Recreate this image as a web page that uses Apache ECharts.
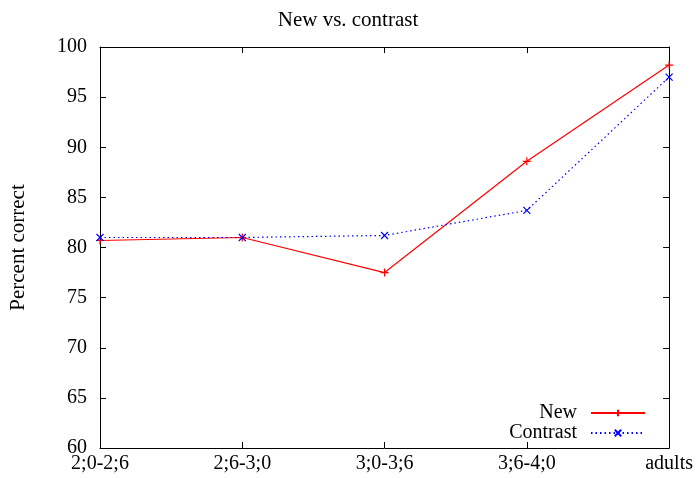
<!DOCTYPE html>
<html>
<head>
<meta charset="utf-8">
<script src="https://cdn.jsdelivr.net/npm/echarts@6/dist/echarts.min.js"></script>
<style>
  html, body { margin: 0; padding: 0; background: #fff; }
  #main { width: 696px; height: 478px; }
</style>
</head>
<body>
<div id="main"></div>
<script>
const categories = ['2;0-2;6', '2;6-3;0', '3;0-3;6', '3;6-4;0', 'adults'];
const newValues = [80.7, 81.0, 77.5, 88.6, 98.2];
const contrastValues = [81.0, 81.0, 81.2, 83.7, 97.0];
const yTicks = [60, 65, 70, 75, 80, 85, 90, 95, 100];

const font = 'Liberation Serif';
const plusSymbol = 'path://M0,5L10,5M5,0L5,10';
const crossSymbol = 'path://M0,0L10,10M10,0L0,10';

const chart = echarts.init(document.getElementById('main'));

const tickStyle = { show: true, inside: true, length: 6, lineStyle: { color: '#000' } };
const legendText = { fontFamily: font, fontSize: 20, color: '#000', padding: [0, 9, 0, 0] };

const option = {
  animation: false,
  title: {
    text: 'New vs. contrast',
    left: 'center',
    top: 5,
    textStyle: { fontFamily: font, fontSize: 21, fontWeight: 'normal', color: '#000' }
  },
  grid: { left: 100, right: 26, top: 47, bottom: 30 },
  legend: [
    {
      data: ['New'],
      right: 50,
      top: 403,
      padding: 0,
      align: 'right',
      itemWidth: 54,
      itemHeight: 8,
      textStyle: legendText
    },
    {
      data: ['Contrast'],
      right: 50,
      top: 423,
      padding: 0,
      align: 'right',
      itemWidth: 54,
      itemHeight: 8,
      textStyle: legendText
    }
  ],
  xAxis: [
    {
      type: 'category',
      data: categories,
      boundaryGap: false,
      axisLine: { lineStyle: { color: '#000', width: 1 } },
      axisTick: Object.assign({ alignWithLabel: true }, tickStyle),
      axisLabel: { fontFamily: font, fontSize: 20, color: '#000', margin: 6 },
      splitLine: { show: false }
    },
    {
      type: 'category',
      data: categories,
      boundaryGap: false,
      position: 'top',
      axisLine: { lineStyle: { color: '#000', width: 1 } },
      axisTick: tickStyle,
      axisLabel: { show: false },
      splitLine: { show: false }
    }
  ],
  yAxis: [
    {
      type: 'value',
      min: yTicks[0],
      max: yTicks[yTicks.length - 1],
      interval: 5,
      name: 'Percent correct',
      nameLocation: 'middle',
      nameGap: 71,
      nameTextStyle: { fontFamily: font, fontSize: 21, color: '#000' },
      axisLine: { show: true, lineStyle: { color: '#000', width: 1 } },
      axisTick: tickStyle,
      axisLabel: { fontFamily: font, fontSize: 20, color: '#000', margin: 13 },
      splitLine: { show: false }
    },
    {
      type: 'value',
      min: yTicks[0],
      max: yTicks[yTicks.length - 1],
      interval: 5,
      position: 'right',
      axisLine: { show: true, lineStyle: { color: '#000', width: 1 } },
      axisTick: tickStyle,
      axisLabel: { show: false },
      splitLine: { show: false }
    }
  ],
  series: [
    {
      name: 'New',
      type: 'line',
      data: newValues,
      symbol: plusSymbol,
      symbolSize: 8,
      showAllSymbol: true,
      lineStyle: { color: '#ff0000', width: 1.2 },
      itemStyle: { color: '#ff0000', borderColor: '#ff0000', borderWidth: 1.2 }
    },
    {
      name: 'Contrast',
      type: 'line',
      data: contrastValues,
      symbol: crossSymbol,
      symbolSize: 7,
      showAllSymbol: true,
      lineStyle: { color: '#0000ff', width: 1.2, type: [1.5, 3] },
      itemStyle: { color: '#0000ff', borderColor: '#0000ff', borderWidth: 1.2 }
    }
  ]
};

chart.setOption(option);
window.addEventListener('resize', () => chart.resize());
</script>
</body>
</html>
